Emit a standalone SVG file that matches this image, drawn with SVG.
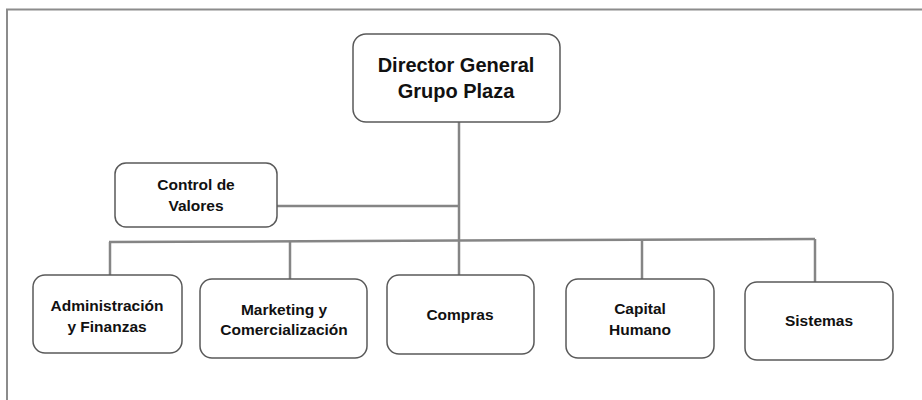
<svg xmlns="http://www.w3.org/2000/svg" width="922" height="400" viewBox="0 0 922 400">
  <style>
    .frame { fill: none; stroke: #8c8c8c; stroke-width: 2; }
    .box { fill: #ffffff; stroke: #595959; stroke-width: 1.5; }
    .link { fill: none; stroke: #858585; stroke-width: 2.5; }
    .lbl { font-family: "Liberation Sans", Arial, sans-serif; font-weight: bold; fill: #111111; text-anchor: middle; }
    .big { font-size: 20px; }
    .small { font-size: 15.5px; }
  </style>
  <rect width="922" height="400" fill="#ffffff"/>
  <!-- page frame: top and left edges -->
  <path class="frame" d="M7,400 V9.5 H922"/>

  <g id="connectors">
    <!-- main trunk -->
    <path class="link" d="M459,122 V275"/>
    <!-- staff position -->
    <path class="link" d="M277,206 H459"/>
    <!-- distribution bar -->
    <path class="link" d="M109,242 L815,239"/>
    <!-- drops -->
    <path class="link" d="M110,242 V275"/>
    <path class="link" d="M290,241.3 V279"/>
    <path class="link" d="M642,239.7 V279"/>
    <path class="link" d="M815,239 V282"/>
  </g>

  <g id="director">
    <rect class="box" x="353" y="34" width="207" height="88" rx="13"/>
    <text class="lbl big" x="456" y="72">Director General</text>
    <text class="lbl big" x="456" y="98">Grupo Plaza</text>
  </g>

  <g id="control-valores">
    <rect class="box" x="115" y="163" width="162" height="64" rx="11"/>
    <text class="lbl small" x="196" y="190">Control de</text>
    <text class="lbl small" x="196" y="211">Valores</text>
  </g>

  <g id="administracion">
    <rect class="box" x="33" y="275" width="149" height="78" rx="12"/>
    <text class="lbl small" x="107" y="311">Administración</text>
    <text class="lbl small" x="107" y="332">y Finanzas</text>
  </g>

  <g id="marketing">
    <rect class="box" x="200" y="279" width="167" height="79" rx="12"/>
    <text class="lbl small" x="284" y="315">Marketing y</text>
    <text class="lbl small" x="284" y="335">Comercialización</text>
  </g>

  <g id="compras">
    <rect class="box" x="387" y="275" width="147" height="79" rx="12"/>
    <text class="lbl small" x="460" y="320">Compras</text>
  </g>

  <g id="capital-humano">
    <rect class="box" x="566" y="279" width="148" height="79" rx="12"/>
    <text class="lbl small" x="640" y="314">Capital</text>
    <text class="lbl small" x="640" y="335">Humano</text>
  </g>

  <g id="sistemas">
    <rect class="box" x="745" y="282" width="148" height="78" rx="12"/>
    <text class="lbl small" x="819" y="326">Sistemas</text>
  </g>
</svg>
